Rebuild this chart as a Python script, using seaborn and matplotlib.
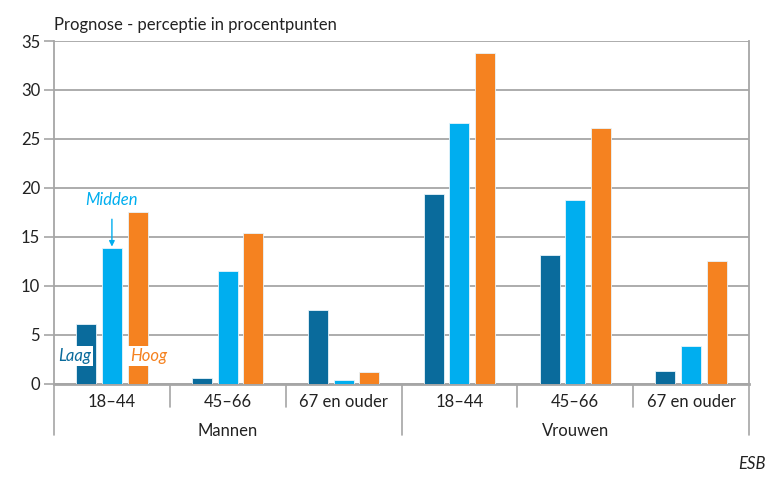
import numpy as np
import pandas as pd
import seaborn as sns
import matplotlib.pyplot as plt
import matplotlib.transforms as mtransforms

GESLACHT = ["Mannen", "Vrouwen"]
LEEFTIJD = ["18–44", "45–66", "67 en ouder"]
KLASSEN = ["Laag", "Midden", "Hoog"]
# values per klasse, order: Mannen 18-44, 45-66, 67+, Vrouwen 18-44, 45-66, 67+
laag = [6.1, 0.55, 7.5, 19.4, 13.1, 1.3]
midden = [13.9, 11.55, 0.35, 26.6, 18.8, 3.9]
hoog = [17.5, 15.35, 1.15, 33.8, 26.1, 12.5]

KLEUREN = {"Laag": "#0A6B9C", "Midden": "#00AEEF", "Hoog": "#F58220"}

rows = []
groepen = [(g, l) for g in GESLACHT for l in LEEFTIJD]
for klasse, vals in zip(KLASSEN, [laag, midden, hoog]):
    for (g, l), v in zip(groepen, vals):
        rows.append({"groep": f"{g} {l}", "geslacht": g, "leeftijd": l,
                     "klasse": klasse, "waarde": v})
df = pd.DataFrame(rows)
volgorde = [f"{g} {l}" for g, l in groepen]

sns.set_theme(style="white")
plt.rcParams["font.family"] = ["Lato", "DejaVu Sans"]

fig = plt.figure(figsize=(7.8, 4.79), dpi=100)
ax = fig.add_axes([54 / 780, 1 - 383.7 / 479, 695 / 780, 342.7 / 479])

sns.barplot(data=df, x="groep", y="waarde", hue="klasse", order=volgorde,
            hue_order=KLASSEN, palette=KLEUREN, width=0.665, gap=0.22,
            saturation=1, edgecolor="#e8f4fa", linewidth=0.6, legend=False,
            ax=ax, zorder=3)

grid = "#a6a6a6"
fs = 12
ax.set_ylim(0, 35)
ax.set_xlim(-0.5, 5.5)
ax.set_yticks(np.arange(0, 36, 5))
ax.yaxis.grid(True, color=grid, linewidth=1.3, zorder=0)
ax.set_axisbelow(True)
ax.tick_params(axis="y", left=True, length=7, width=1.2, color=grid,
               labelsize=fs, labelcolor="#222222", pad=3)
ax.tick_params(axis="x", bottom=False, labelbottom=False)
ax.set_xlabel("")
ax.set_ylabel("")
for side in ["left", "right", "bottom"]:
    ax.spines[side].set_color(grid)
    ax.spines[side].set_linewidth(1.3)
ax.spines["bottom"].set_linewidth(2)
ax.spines["top"].set_visible(False)

# category labels and separators below the axis
trans = mtransforms.blended_transform_factory(ax.transData, ax.transAxes)
for i in range(7):
    x = i - 0.5
    y_end = -0.15 if i % 3 == 0 else -0.067
    ax.plot([x, x], [0, y_end], color=grid, linewidth=1.2, transform=trans,
            clip_on=False)
for i, (g, l) in enumerate(groepen):
    ax.text(i, -0.0525, l, transform=trans, ha="center", va="center",
            fontsize=fs, color="#222222")
for j, g in enumerate(GESLACHT):
    ax.text(j * 3 + 1, -0.137, g, transform=trans, ha="center", va="center",
            fontsize=fs, color="#222222")

# inline legend labels
box = dict(facecolor="white", edgecolor="none", pad=1.5)
ax.text(-0.32, 2.86, "Laag", ha="center", va="center", style="italic",
        fontsize=fs, color=KLEUREN["Laag"], bbox=box, zorder=5)
ax.text(0.316, 2.86, "Hoog", ha="center", va="center", style="italic",
        fontsize=fs, color=KLEUREN["Hoog"], bbox=box, zorder=5)
ax.annotate("Midden", xy=(0.0, midden[0] + 0.1), xytext=(0.0, 18.8),
            ha="center", va="center", style="italic", fontsize=fs,
            color=KLEUREN["Midden"], zorder=5,
            arrowprops=dict(arrowstyle="-|>", color=KLEUREN["Midden"],
                            lw=1, shrinkA=6, shrinkB=0, mutation_scale=8))

fig.text(54 / 780, 1 - 25 / 479, "Prognose - perceptie in procentpunten",
         ha="left", va="center", fontsize=fs, color="#222222")
fig.text(766 / 780, 1 - 464 / 479, "ESB", ha="right", va="center",
         style="italic", fontsize=fs, color="#222222")

fig.savefig("out.png", dpi=100)
